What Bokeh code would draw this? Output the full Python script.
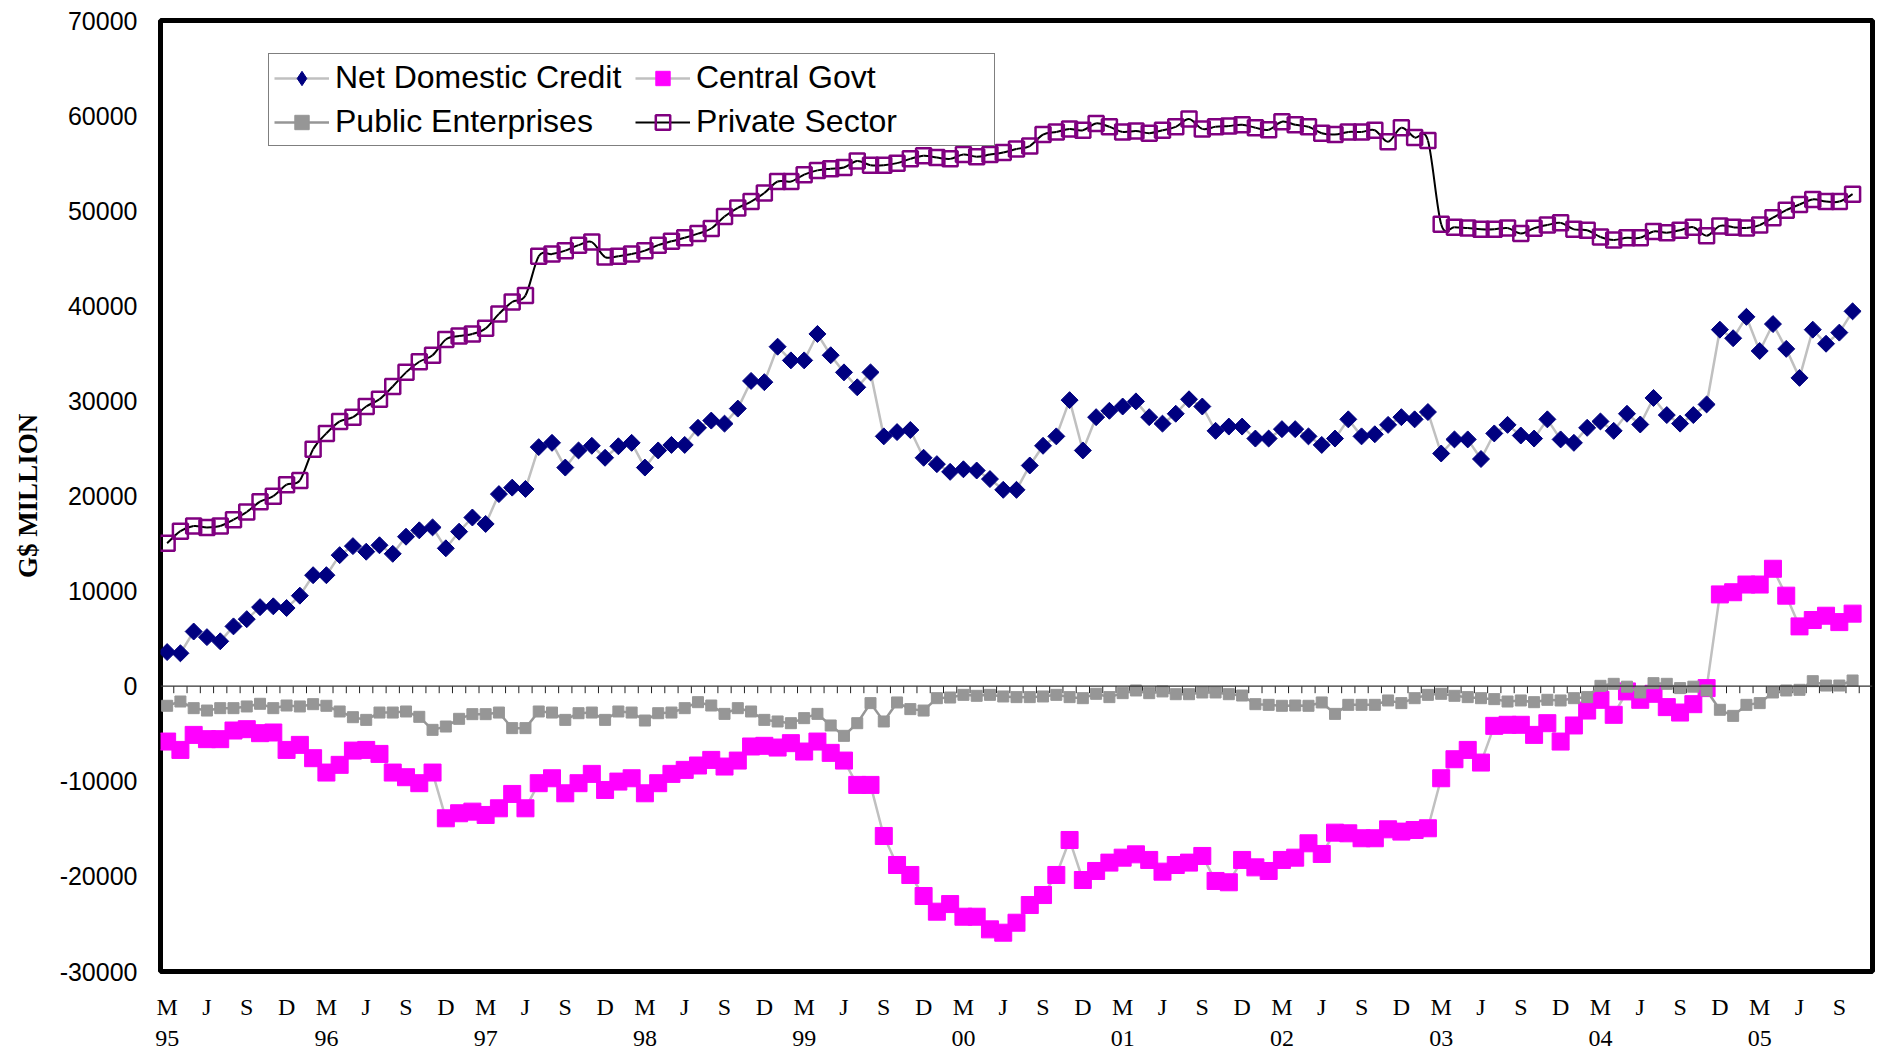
import numpy as np
from bokeh.plotting import figure
from bokeh.models import Range1d, FixedTicker, Span, Legend, LegendItem
from bokeh.embed import file_html
from bokeh.resources import INLINE

# Monthly observations, March 1995 .. October 2005
quarter_letters = ["M", "J", "S", "D"]
year_labels = ["95", "96", "97", "98", "99", "00", "01", "02", "03", "04", "05"]

net_domestic_credit = [
    3590, 3460, 5750, 5160, 4720, 6290, 7050, 8310, 8400, 8220,
    9520, 11670, 11670, 13780, 14730, 14140, 14820, 13920, 15720, 16390,
    16700, 14500, 16250, 17740, 17060, 20200, 20880, 20740, 25140, 25590,
    22990, 24790, 25280, 24020, 25230, 25590, 22990, 24790, 25370, 25370,
    27170, 27930, 27610, 29190, 32100, 31970, 35700, 34260, 34260, 37040,
    34800, 33000, 31430, 33000, 26270, 26720, 26940, 24020, 23350, 22540,
    22810, 22680, 21780, 20650, 20650, 23210, 25280, 26270, 30080, 24790,
    28290, 28960, 29410, 29950, 28290, 27610, 28650, 30170, 29410, 26850,
    27300, 27300, 26040, 26040, 27030, 27030, 26270, 25370, 26040, 28060,
    26270, 26490, 27480, 28290, 28060, 28830, 24470, 25950, 25950, 23890,
    26580, 27480, 26360, 26040, 28060, 25950, 25590, 27170, 27840, 26850,
    28650, 27520, 30310, 28510, 27610, 28510, 29630, 37490, 36590, 38840,
    35250, 38080, 35470, 32420, 37490, 36010, 37180, 39420,
]

central_govt = [
    -5820, -6700, -5120, -5570, -5570, -4660, -4520, -4940, -4870, -6700,
    -6170, -7570, -9080, -8270, -6770, -6700, -7120, -9080, -9570, -10200,
    -9080, -13890, -13360, -13190, -13540, -12840, -11330, -12840, -10200, -9680,
    -11260, -10200, -9220, -10910, -10030, -9680, -11260, -10200, -9220, -8800,
    -8340, -7750, -8450, -7820, -6340, -6270, -6450, -5990, -6870, -5820,
    -7010, -7820, -10380, -10380, -15750, -18800, -19850, -22060, -23710, -22910,
    -24240, -24240, -25570, -25920, -24870, -23010, -21960, -19850, -16170, -20380,
    -19430, -18550, -18030, -17680, -18270, -19500, -18800, -18550, -17850, -20480,
    -20620, -18270, -19050, -19430, -18270, -18030, -16520, -17640, -15400, -15470,
    -15990, -15990, -15050, -15290, -15120, -14940, -9680, -7680, -6700, -8030,
    -4170, -4060, -4060, -5120, -3890, -5820, -4130, -2560, -1430, -3010,
    -550, -1430, -800, -2200, -2770, -1890, -200, 9650, 9880, 10690,
    10690, 12350, 9520, 6290, 6960, 7410, 6740, 7630,
]

public_enterprises = [
    -2060, -1610, -2310, -2560, -2310, -2310, -2130, -1850, -2310, -2030,
    -2130, -1890, -2060, -2660, -3260, -3540, -2770, -2770, -2660, -3220,
    -4590, -4240, -3430, -2940, -2940, -2770, -4410, -4410, -2660, -2770,
    -3540, -2840, -2770, -3540, -2660, -2770, -3610, -2840, -2770, -2310,
    -1680, -2030, -2910, -2310, -2660, -3540, -3710, -3890, -3360, -2910,
    -4130, -5220, -3890, -1780, -3710, -1710, -2410, -2560, -1260, -1190,
    -910, -1010, -910, -1080, -1150, -1150, -1080, -910, -1150, -1260,
    -800, -1150, -730, -450, -730, -550, -840, -840, -660, -660,
    -840, -980, -1890, -1960, -2060, -2030, -2060, -1710, -2910, -1960,
    -1960, -1960, -1500, -1780, -1260, -910, -800, -1010, -1150, -1260,
    -1360, -1610, -1500, -1680, -1430, -1500, -1260, -1150, 40, 250,
    -50, -660, 320, 250, -200, -50, -450, -2480, -3120, -1960,
    -1780, -660, -450, -380, 530, 70, 70, 600,
]

private_sector = [
    15040, 16300, 16840, 16700, 16840, 17510, 18320, 19400, 19980, 21190,
    21640, 24920, 26580, 27840, 28290, 29410, 30170, 31520, 33000, 34120,
    34800, 36460, 36820, 37040, 37630, 39150, 40400, 41080, 45210, 45440,
    45800, 46380, 46700, 45130, 45210, 45440, 45800, 46380, 46790, 47150,
    47590, 48130, 49390, 50290, 50960, 51860, 53070, 53070, 53790, 54240,
    54420, 54550, 55230, 54780, 54780, 55000, 55450, 55770, 55590, 55450,
    55900, 55680, 55900, 56130, 56480, 56800, 58010, 58280, 58600, 58460,
    59180, 58820, 58280, 58370, 58150, 58460, 58820, 59630, 58600, 58820,
    58910, 59040, 58730, 58510, 59360, 59040, 58820, 58150, 58010, 58280,
    58280, 58460, 57250, 58730, 57700, 57380, 48580, 48270, 48180, 48040,
    48040, 48180, 47600, 48150, 48490, 48720, 48040, 47950, 47240, 46920,
    47150, 47150, 47820, 47680, 47950, 48270, 47370, 48400, 48270, 48180,
    48490, 49260, 50060, 50650, 51190, 50960, 50960, 51730,
]

n = len(net_domestic_credit)
xs = np.arange(n, dtype=float)

Y_LO, Y_HI = -30000, 70000
FRAME_H = 951

p = figure(width=1877, height=1053, output_backend="svg", toolbar_location=None,
           x_range=Range1d(-0.5, n + 0.5), y_range=Range1d(Y_LO, Y_HI),
           min_border_left=160, min_border_right=5, min_border_top=20, min_border_bottom=82)
p.outline_line_color = "black"
p.outline_line_width = 5
p.xgrid.visible = False
p.ygrid.visible = False
p.background_fill_color = "white"
p.border_fill_color = "white"

# zero line with category ticks (Excel-style axis crossing at 0)
p.add_layout(Span(location=0, dimension="width", line_color="#333333", line_width=1.2))
tick_len = 7 * (Y_HI - Y_LO) / FRAME_H
bounds = np.arange(1, n + 1) - 0.5
p.segment(x0=bounds, y0=np.zeros_like(bounds), x1=bounds, y1=-tick_len * np.ones_like(bounds),
          line_color="#222222", line_width=1)

# Net Domestic Credit
ndc_line = p.line(xs, net_domestic_credit, line_color="#C0C0C0", line_width=2.5)
# diamond glyph used for the legend key; it sits fully inside the rotated squares below
ndc_key = p.scatter(xs, net_domestic_credit, marker="diamond", size=14,
                    fill_color="#000080", line_color="#000080")
ndc_pts = p.scatter(xs, net_domestic_credit, marker="square", angle=np.pi / 4, size=12,
                    fill_color="#000080", line_color="#000080")

# Central Govt
cg_line = p.line(xs, central_govt, line_color="#C0C0C0", line_width=2.5)
cg_pts = p.scatter(xs, central_govt, marker="square", size=17,
                   fill_color="#FF00FF", line_color="#FF00FF")

# Public Enterprises
pe_line = p.line(xs, public_enterprises, line_color="#969696", line_width=2.5)
pe_pts = p.scatter(xs, public_enterprises, marker="square", size=11,
                   fill_color="#969696", line_color="#969696")

# Private Sector: smoothed line (Catmull-Rom bezier through the data points)
ps = np.array(private_sector, dtype=float)
prev_y = np.r_[ps[0], ps[:-1]]
next_y = np.r_[ps[1:], ps[-1]]
prev_x = np.r_[xs[0], xs[:-1]]
next_x = np.r_[xs[1:], xs[-1]]
bx0, by0, bx1, by1 = xs[:-1], ps[:-1], xs[1:], ps[1:]
cx0 = bx0 + (next_x[:-1] - prev_x[:-1]) / 6
cy0 = by0 + (next_y[:-1] - prev_y[:-1]) / 6
cx1 = bx1 - (next_x[1:] - prev_x[1:]) / 6
cy1 = by1 - (next_y[1:] - prev_y[1:]) / 6
ps_line = p.bezier(x0=bx0, y0=by0, x1=bx1, y1=by1, cx0=cx0, cy0=cy0, cx1=cx1, cy1=cy1,
                   line_color="black", line_width=2)
ps_pts = p.scatter(xs, private_sector, marker="square", size=15, fill_color=None,
                   line_color="#800080", line_width=2.5)

# X axis: quarter letters with year under each March
ticks = list(range(0, n, 3))
overrides = {}
for t in ticks:
    q = quarter_letters[(t // 3) % 4]
    overrides[t] = (q + "\n" + year_labels[t // 12]) if q == "M" else q
xa = p.xaxis[0]
xa.ticker = FixedTicker(ticks=ticks)
xa.major_label_overrides = overrides
xa.axis_line_color = None
xa.major_tick_line_color = None
xa.minor_tick_line_color = None
xa.major_tick_out = 0
xa.minor_tick_out = 0
xa.major_label_standoff = 22
xa.major_label_text_font = "Liberation Serif"
xa.major_label_text_font_size = "24px"
xa.major_label_text_color = "black"

# Y axis
yt = list(range(Y_LO, Y_HI + 1, 10000))
ya = p.yaxis[0]
ya.ticker = FixedTicker(ticks=yt)
ya.major_label_overrides = {v: str(v) for v in yt}
ya.axis_line_color = None
ya.major_tick_line_color = None
ya.minor_tick_line_color = None
ya.major_tick_out = 0
ya.minor_tick_out = 0
ya.major_label_standoff = 23
ya.major_label_text_font = "Liberation Sans"
ya.major_label_text_font_size = "25px"
ya.major_label_text_color = "black"
ya.axis_label = "G$ MILLION"
ya.axis_label_text_font = "Liberation Serif"
ya.axis_label_text_font_style = "bold"
ya.axis_label_text_font_size = "27px"
ya.axis_label_text_color = "black"
ya.axis_label_standoff = 14

legend = Legend(items=[
    LegendItem(label="Net Domestic Credit", renderers=[ndc_line, ndc_key]),
    LegendItem(label="Central Govt", renderers=[cg_line, cg_pts]),
    LegendItem(label="Public Enterprises", renderers=[pe_line, pe_pts]),
    LegendItem(label="Private Sector", renderers=[ps_line, ps_pts]),
], orientation="horizontal", ncols=2, location=(108, 825))
legend.label_text_font = "Liberation Sans"
legend.label_text_font_size = "32px"
legend.label_text_color = "black"
legend.glyph_width = 55
legend.glyph_height = 36
legend.label_standoff = 6
legend.label_width = 293
legend.spacing = 7
legend.padding = 5
legend.margin = 0
legend.border_line_color = "black"
legend.border_line_width = 1
legend.background_fill_color = "white"
legend.background_fill_alpha = 1
p.add_layout(legend)

open("out.html", "w").write(file_html(p, INLINE))
